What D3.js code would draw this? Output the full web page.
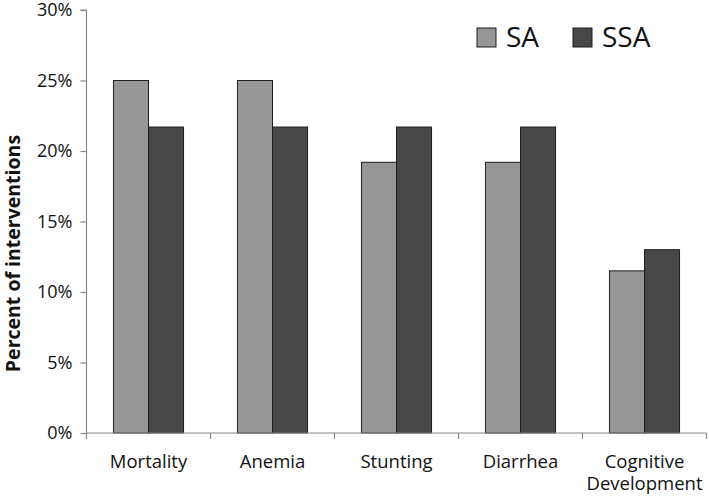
<!DOCTYPE html>
<html><head><meta charset="utf-8">
<script src="https://cdn.jsdelivr.net/npm/d3@7"></script>
<style>body{margin:0;background:#fff;} svg{display:block;}</style>
</head><body>
<svg id="c" width="709" height="500"></svg>
<script>
const categories = ["Mortality", "Anemia", "Stunting", "Diarrhea", "Cognitive Development"];
const seriesNames = ["SA", "SSA"];
const saValues = [25.0, 25.0, 19.2, 19.2, 11.5];
const ssaValues = [21.7, 21.7, 21.7, 21.7, 13.0];
const yTicks = [0, 5, 10, 15, 20, 25, 30];
const colors = ["#969696", "#474747"];

const svg = d3.select("#c");
const font = "'Open Sans', 'DejaVu Sans', sans-serif";
const x0 = 86.5, x1 = 706.5, yTop = 10, yBot = 433;

const x = d3.scaleBand().domain(categories).range([x0, x1]).paddingInner(0).paddingOuter(0);
const y = d3.scaleLinear().domain([0, 30]).range([yBot, yTop]);
const xs = d3.scaleBand().domain(seriesNames).range([0, x.bandwidth()]).paddingInner(0).paddingOuter(0.77);

// y axis
const ya = svg.append("g").attr("transform", `translate(${x0},0)`)
  .call(d3.axisLeft(y).tickValues(yTicks).tickSize(6).tickPadding(8).tickFormat(d => d + "%"));
ya.selectAll("path,line").attr("stroke", "#8a8a8a").attr("stroke-width", 1.2);
ya.selectAll("text").attr("font-family", font).attr("font-size", 18).attr("fill", "#111");
ya.select(".domain").attr("d", `M-6,${yTop}H0V${yBot}`);

// bars
const data = categories.map((c, i) => ({c, vals: [saValues[i], ssaValues[i]]}));
const g = svg.append("g");
data.forEach(d => {
  d.vals.forEach((v, j) => {
    g.append("rect")
      .attr("x", x(d.c) + xs(seriesNames[j]))
      .attr("y", y(v))
      .attr("width", xs.bandwidth())
      .attr("height", y(0) - y(v))
      .attr("fill", colors[j])
      .attr("stroke", "#1e1e1e")
      .attr("stroke-width", 1);
  });
});

// x axis
const xa = svg.append("g").attr("transform", `translate(0,${yBot})`);
xa.append("line").attr("x1", x0).attr("x2", x1).attr("y1", 0).attr("y2", 0).attr("stroke", "#8a8a8a").attr("stroke-width", 1.2);
const tickXs = categories.map(c => x(c)).concat([x1]);
xa.selectAll("line.t").data(tickXs).enter().append("line")
  .attr("x1", d => d).attr("x2", d => d).attr("y1", 0).attr("y2", 6)
  .attr("stroke", "#8a8a8a").attr("stroke-width", 1.2);
const labels = xa.selectAll("text.c").data(categories).enter().append("text")
  .attr("x", d => x(d) + x.bandwidth() / 2)
  .attr("y", 35)
  .attr("text-anchor", "middle")
  .attr("font-family", font).attr("font-size", 18.5).attr("fill", "#111");
labels.each(function(d) {
  const words = d === "Cognitive Development" ? ["Cognitive", "Development"] : [d];
  const t = d3.select(this);
  words.forEach((w, i) => t.append("tspan").attr("x", x(d) + x.bandwidth() / 2).attr("dy", i === 0 ? 0 : 22).text(w));
});

// y title
svg.append("text")
  .attr("transform", `translate(20,${(yTop + yBot) / 2 + 32}) rotate(-90)`)
  .attr("text-anchor", "middle")
  .attr("font-family", font).attr("font-size", 19.5).attr("font-weight", "bold").attr("fill", "#111")
  .text("Percent of interventions");

// legend
const legX = [477, 573];
seriesNames.forEach((s, i) => {
  svg.append("rect").attr("x", legX[i]).attr("y", 28).attr("width", 19).attr("height", 19)
    .attr("fill", colors[i]).attr("stroke", "#1e1e1e").attr("stroke-width", 1);
  svg.append("text").attr("x", legX[i] + 29).attr("y", 47)
    .attr("font-family", font).attr("font-size", 28).attr("fill", "#111").text(s);
});
</script>
</body></html>
